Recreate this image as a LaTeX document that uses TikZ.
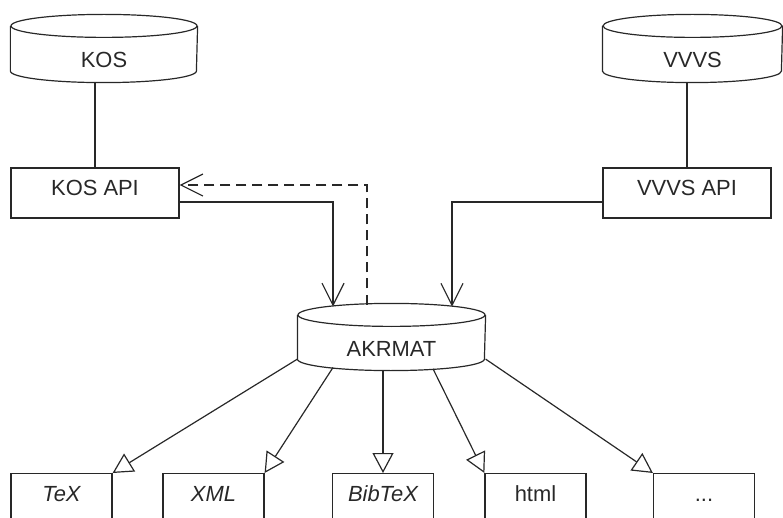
\documentclass[tikz,border=0pt]{standalone}
\usepackage{fontspec}
\setmainfont{Liberation Sans}
\usetikzlibrary{arrows.meta,calc}

\definecolor{ink}{RGB}{40,40,40}

% Outline of a drum (database) around a text node: the node covers the
% body below the top ellipse; #2 and #3 are the ellipse radii.
\newcommand\drawdrum[3]{%
  \draw ($(#1.north)+(0,#3)$) ellipse [x radius=#2 bp, y radius=#3 bp];
  \draw ($(#1.north west)+(0,#3)$) -- ($(#1.south west)+(0,#3)$)
    arc [start angle=180, end angle=360, x radius=#2 bp, y radius=#3 bp]
    -- ($(#1.north east)+(0,#3)$);
}

\tikzset{
  label font/.style={font=\fontsize{22}{26}\selectfont, text=ink},
  drum/.style={label font, draw=none, minimum height=44bp, inner sep=0pt},
  apibox/.style={label font, draw=ink, minimum width=168bp,
    inner xsep=0pt, inner ysep=0pt, text height=28bp, text depth=22bp},
  fmtbox/.style={label font, draw=ink, anchor=north,
    minimum width=101bp, inner xsep=0pt, inner ysep=0pt,
    text height=28bp, text depth=40bp},
  barb/.style={-{Straight Barb[length=22bp,width=22bp]}},
  tri/.style={-{Triangle[open,length=20bp,width=21bp]}},
  dashline/.style={dash pattern=on 10bp off 6bp},
}

\begin{document}
\begin{tikzpicture}[x=1bp,y=1bp,line width=1.2bp,draw=ink]
  \clip (0,0) rectangle (783,-518);

  % data sources
  \node[drum, minimum width=186bp] (kos)  at (104,-60)   {KOS};
  \node[drum, minimum width=179bp] (vvvs) at (692.5,-60) {VVVS};
  \drawdrum{kos}{93}{11.5}
  \drawdrum{vvvs}{89.5}{11.5}

  % interfaces
  \node[apibox] (kosapi)  at (95,-193)  {KOS API};
  \node[apibox] (vvvsapi) at (687,-193) {VVVS API};

  % central store
  \node[drum, minimum width=187bp, minimum height=43bp] (akr) at (391.5,-348.5) {AKRMAT};
  \drawdrum{akr}{93.5}{11.5}

  % output formats
  \node[fmtbox, font=\fontsize{22}{26}\selectfont\itshape] (tex)  at (61.5,-473)  {TeX};
  \node[fmtbox, font=\fontsize{22}{26}\selectfont\itshape] (xml)  at (213.5,-473) {XML};
  \node[fmtbox, font=\fontsize{22}{26}\selectfont\itshape] (bib)  at (383,-473)   {BibTeX};
  \node[fmtbox] (html) at (535.5,-473) {html};
  \node[fmtbox] (more) at (704,-473)   {...};

  % attachment points on the central store
  \coordinate (akrin1)  at (333,-306.5);
  \coordinate (akrout)  at (367,-304.5);
  \coordinate (akrin2)  at (452,-306.7);
  \coordinate (akrtex)  at ($(akr.south west)+(0,11.5)$);
  \coordinate (akrxml)  at (333,-367.5);
  \coordinate (akrhtml) at (433,-368.8);
  \coordinate (akrmore) at ($(akr.south east)+(0,11.5)$);

  % sources to interfaces
  \draw (kos.south -| kosapi.north) -- (kosapi.north);
  \draw (vvvs.south -| vvvsapi.north) -- (vvvsapi.north);

  % interfaces to the store and back
  \draw[barb] ([yshift=-9]kosapi.east) -| (akrin1);
  \draw[barb] ([yshift=-9]vvvsapi.west) -| (akrin2);
  \draw[barb, dashline] (akrout) |- ([yshift=8]kosapi.east);

  % store to formats
  \draw[tri] (akrtex)  -- (tex.north east);
  \draw[tri] (akrxml)  -- (xml.north east);
  \draw[tri] (bib.north |- akr.south) -- (bib.north);
  \draw[tri] (akrhtml) -- (html.north west);
  \draw[tri] (akrmore) -- (more.north west);
\end{tikzpicture}
\end{document}
